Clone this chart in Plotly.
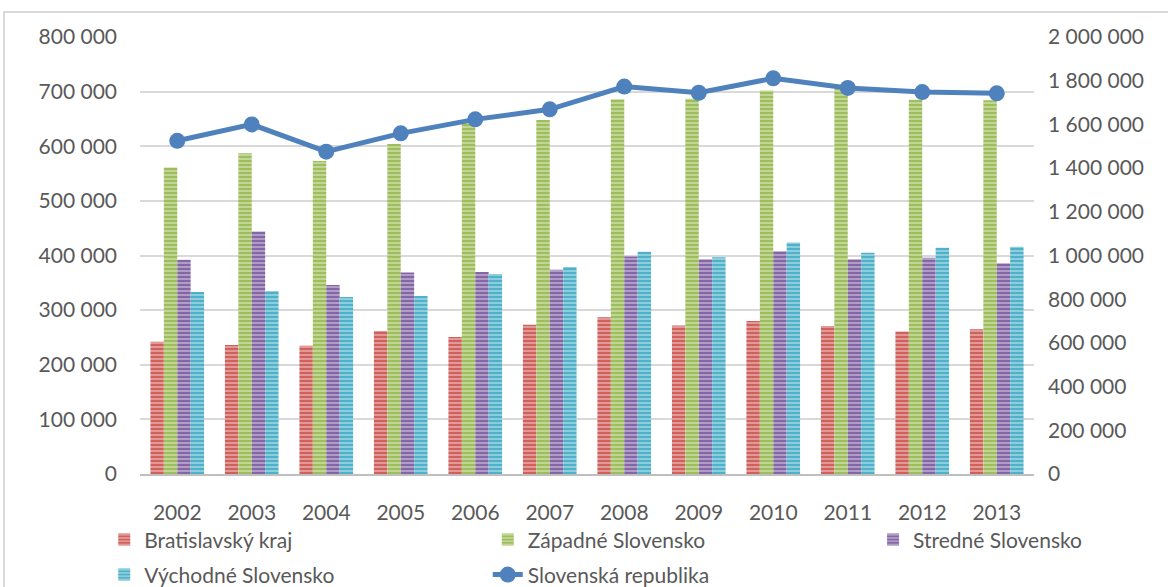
import plotly.graph_objects as go

years = ["2002", "2003", "2004", "2005", "2006", "2007", "2008", "2009", "2010", "2011", "2012", "2013"]
bratislavsky = [242000, 236000, 235000, 262000, 251000, 273000, 287000, 272000, 280000, 271000, 261000, 265000]
zapadne = [561000, 587000, 573000, 604000, 642000, 648000, 686000, 687000, 702000, 705000, 685000, 684000]
stredne = [392000, 444000, 346000, 369000, 370000, 374000, 398000, 393000, 408000, 393000, 396000, 386000]
vychodne = [333000, 335000, 324000, 326000, 366000, 379000, 407000, 397000, 424000, 405000, 414000, 416000]
slovenska = [1525000, 1600000, 1475000, 1559000, 1623000, 1669000, 1773000, 1745000, 1811000, 1767000, 1748000, 1742000]

bar_series = [
    ("Bratislavský kraj", bratislavsky, "#D0605C", "legend"),
    ("Západné Slovensko", zapadne, "#9DBE5B", "legend2"),
    ("Stredné Slovensko", stredne, "#8466A6", "legend3"),
    ("Východné Slovensko", vychodne, "#4FB0C9", "legend4"),
]

fig = go.Figure()
for name, vals, col, lg in bar_series:
    fig.add_trace(go.Bar(
        x=years, y=vals, name=name, legend=lg,
        marker=dict(color=col, line=dict(width=0),
                    pattern=dict(shape="-", fgcolor="white", fgopacity=0.45, size=4, solidity=0.4)),
    ))

fig.add_trace(go.Scatter(
    x=years, y=slovenska, name="Slovenská republika", yaxis="y2", legend="legend5",
    mode="lines+markers",
    line=dict(color="#4F81BD", width=5),
    marker=dict(color="#4F81BD", size=16),
))

font_family = "Lato, 'Open Sans', sans-serif"
lfont = dict(size=21, color="#595959", family=font_family)
col_x = [-0.040, 0.389, 0.820]
row_y = [-0.104, -0.184]


def lg(x, y):
    return dict(orientation="v", x=x, xanchor="left", y=y, yanchor="top",
                font=lfont, bgcolor="rgba(0,0,0,0)")


fig.update_layout(
    width=1168, height=587,
    margin=dict(l=140, r=134, t=37, b=113, autoexpand=False),
    paper_bgcolor="white", plot_bgcolor="white",
    separators=". ",
    font=dict(family=font_family, size=21, color="#595959"),
    barmode="group", bargap=0.28, bargroupgap=0,
    showlegend=True,
    legend=lg(col_x[0], row_y[0]),
    legend2=lg(col_x[1], row_y[0]),
    legend3=lg(col_x[2], row_y[0]),
    legend4=lg(col_x[0], row_y[1]),
    legend5=lg(col_x[1], row_y[1]),
    xaxis=dict(showgrid=False, showline=True, linecolor="#BFBFBF", linewidth=2,
               ticks="", ticklabelstandoff=19, range=[-0.5, len(years) - 0.5]),
    yaxis=dict(range=[0, 800000], dtick=100000, tickformat=",d", showgrid=True,
               gridcolor="#D9D9D9", gridwidth=2, zeroline=False, ticks="",
               ticklabelstandoff=22),
    yaxis2=dict(range=[0, 2000000], dtick=200000, tickformat=",d", overlaying="y",
                side="right", showgrid=False, zeroline=False, ticks="",
                ticklabelstandoff=13),
    shapes=[dict(type="rect", xref="paper", yref="paper",
                 x0=(4 - 140) / 894, x1=1.3, y0=-0.4, y1=(474 - 12) / 437,
                 line=dict(color="#D9D9D9", width=2), layer="below")],
)

fig.write_html("out.html", config={"displayModeBar": False},
               post_script="document.body.style.margin='0px';document.body.style.overflow='hidden';")
